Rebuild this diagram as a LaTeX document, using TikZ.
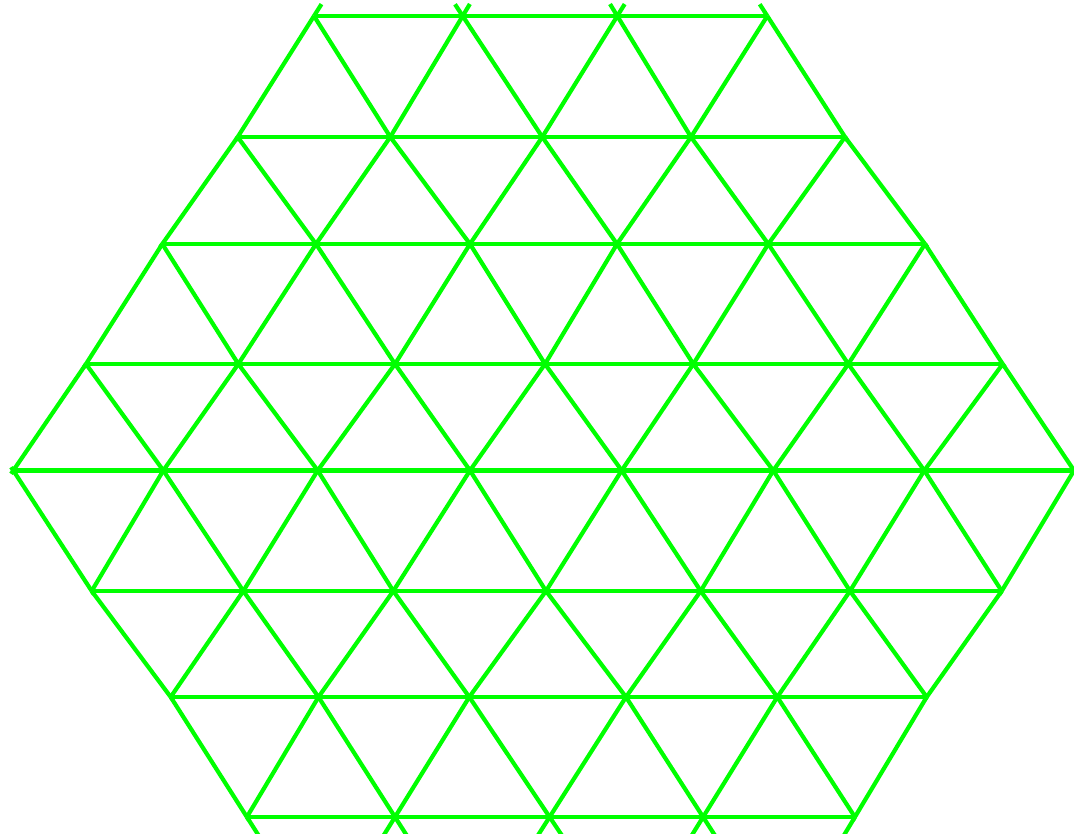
\documentclass[tikz,border=0pt]{standalone}
\usetikzlibrary{calc}
\definecolor{gridgreen}{HTML}{00FF00}
\begin{document}
\begin{tikzpicture}[x=1pt,y=-1pt,
  gridline/.style={draw=gridgreen,line width=4.2pt,line cap=butt}]
\useasboundingbox (0,0) rectangle (1074,833);
\clip (0,0) rectangle (1074,833);
% row a (top)
\coordinate (a0) at (314,16);
\coordinate (a1) at (462.7,16);
\coordinate (a2) at (617.3,16);
\coordinate (a3) at (767.3,16);
% row b
\coordinate (b0) at (237.7,137);
\coordinate (b1) at (390.3,137);
\coordinate (b2) at (542.3,137);
\coordinate (b3) at (691,137);
\coordinate (b4) at (845,137);
% row c
\coordinate (c0) at (162.3,244);
\coordinate (c1) at (316,244);
\coordinate (c2) at (470,244);
\coordinate (c3) at (617,244);
\coordinate (c4) at (768.3,244);
\coordinate (c5) at (925,244);
% row d
\coordinate (d0) at (86,364);
\coordinate (d1) at (238.3,364);
\coordinate (d2) at (395,364);
\coordinate (d3) at (545,364);
\coordinate (d4) at (693.3,364);
\coordinate (d5) at (848.3,364);
\coordinate (d6) at (1002.7,364);
% row e (middle)
\coordinate (e0) at (13.3,470.5);
\coordinate (e1) at (163.3,470.5);
\coordinate (e2) at (317.7,470.5);
\coordinate (e3) at (470,470.5);
\coordinate (e4) at (621.7,470.5);
\coordinate (e5) at (773.3,470.5);
\coordinate (e6) at (924.3,470.5);
\coordinate (e7) at (1074,470.5);
% row f
\coordinate (f0) at (91.7,591);
\coordinate (f1) at (243.3,591);
\coordinate (f2) at (393.3,591);
\coordinate (f3) at (546,591);
\coordinate (f4) at (700.7,591);
\coordinate (f5) at (850,591);
\coordinate (f6) at (1001.7,591);
% row g
\coordinate (g0) at (170.7,697);
\coordinate (g1) at (318.5,697);
\coordinate (g2) at (469.3,697);
\coordinate (g3) at (626,697);
\coordinate (g4) at (777.3,697);
\coordinate (g5) at (926.7,697);
% row h (bottom)
\coordinate (h0) at (246.9,817);
\coordinate (h1) at (395,817);
\coordinate (h2) at (549.6,817);
\coordinate (h3) at (703.1,817);
\coordinate (h4) at (854.9,817);

% horizontal lines
\foreach \r/\n in {a/3,b/4,c/5,d/6,e/7,f/6,g/5,h/4}{
  \foreach \i [evaluate=\i as \j using int(\i-1)] in {1,...,\n}{
    \draw[gridline] (\r\j) -- (\r\i);
  }
}
% upper half diagonals
\foreach \r/\s/\n in {a/b/3,b/c/4,c/d/5,d/e/6}{
  \foreach \i [evaluate=\i as \k using int(\i+1)] in {0,...,\n}{
    \draw[gridline] (\s\i) -- (\r\i);
    \draw[gridline] (\s\k) -- (\r\i);
  }
}
% lower half diagonals
\foreach \r/\s/\n in {f/e/6,g/f/5,h/g/4}{
  \foreach \i [evaluate=\i as \k using int(\i+1)] in {0,...,\n}{
    \draw[gridline] (\s\i) -- (\r\i);
    \draw[gridline] (\s\k) -- (\r\i);
  }
}
% overshoots at the top row
\coordinate (ta0) at ($(a0)!-14pt!(b0)$);
\coordinate (ta1l) at ($(a1)!-14pt!(b1)$);
\coordinate (ta1r) at ($(a1)!-14pt!(b2)$);
\coordinate (ta2l) at ($(a2)!-14pt!(b2)$);
\coordinate (ta2r) at ($(a2)!-14pt!(b3)$);
\coordinate (ta3) at ($(a3)!-14pt!(b4)$);
\draw[gridline] (a0) -- (ta0);
\draw[gridline] (a1) -- (ta1l);
\draw[gridline] (a1) -- (ta1r);
\draw[gridline] (a2) -- (ta2l);
\draw[gridline] (a2) -- (ta2r);
\draw[gridline] (a3) -- (ta3);
% overshoots at the bottom row
\coordinate (bh0) at ($(h0)!-24pt!(g0)$);
\coordinate (bh1l) at ($(h1)!-24pt!(g1)$);
\coordinate (bh1r) at ($(h1)!-24pt!(g2)$);
\coordinate (bh2l) at ($(h2)!-24pt!(g2)$);
\coordinate (bh2r) at ($(h2)!-24pt!(g3)$);
\coordinate (bh3l) at ($(h3)!-24pt!(g3)$);
\coordinate (bh3r) at ($(h3)!-24pt!(g4)$);
\coordinate (bh4) at ($(h4)!-24pt!(g5)$);
\draw[gridline] (h0) -- (bh0);
\draw[gridline] (h1) -- (bh1l);
\draw[gridline] (h1) -- (bh1r);
\draw[gridline] (h2) -- (bh2l);
\draw[gridline] (h2) -- (bh2r);
\draw[gridline] (h3) -- (bh3l);
\draw[gridline] (h3) -- (bh3r);
\draw[gridline] (h4) -- (bh4);
% small ticks at the side corners of the rows
\foreach \p/\q in {e0/d0,e0/f0,b0/a0,c0/b0,d0/c0,f0/e0,g0/f0,h0/g0,b4/a3,c5/b4,d6/c5,f6/e7,g5/f6,h4/g5}{
  \coordinate (tk-\p-\q) at ($(\p)!-4pt!(\q)$);
  \draw[gridline] (\p) -- (tk-\p-\q);
}
\end{tikzpicture}
\end{document}
